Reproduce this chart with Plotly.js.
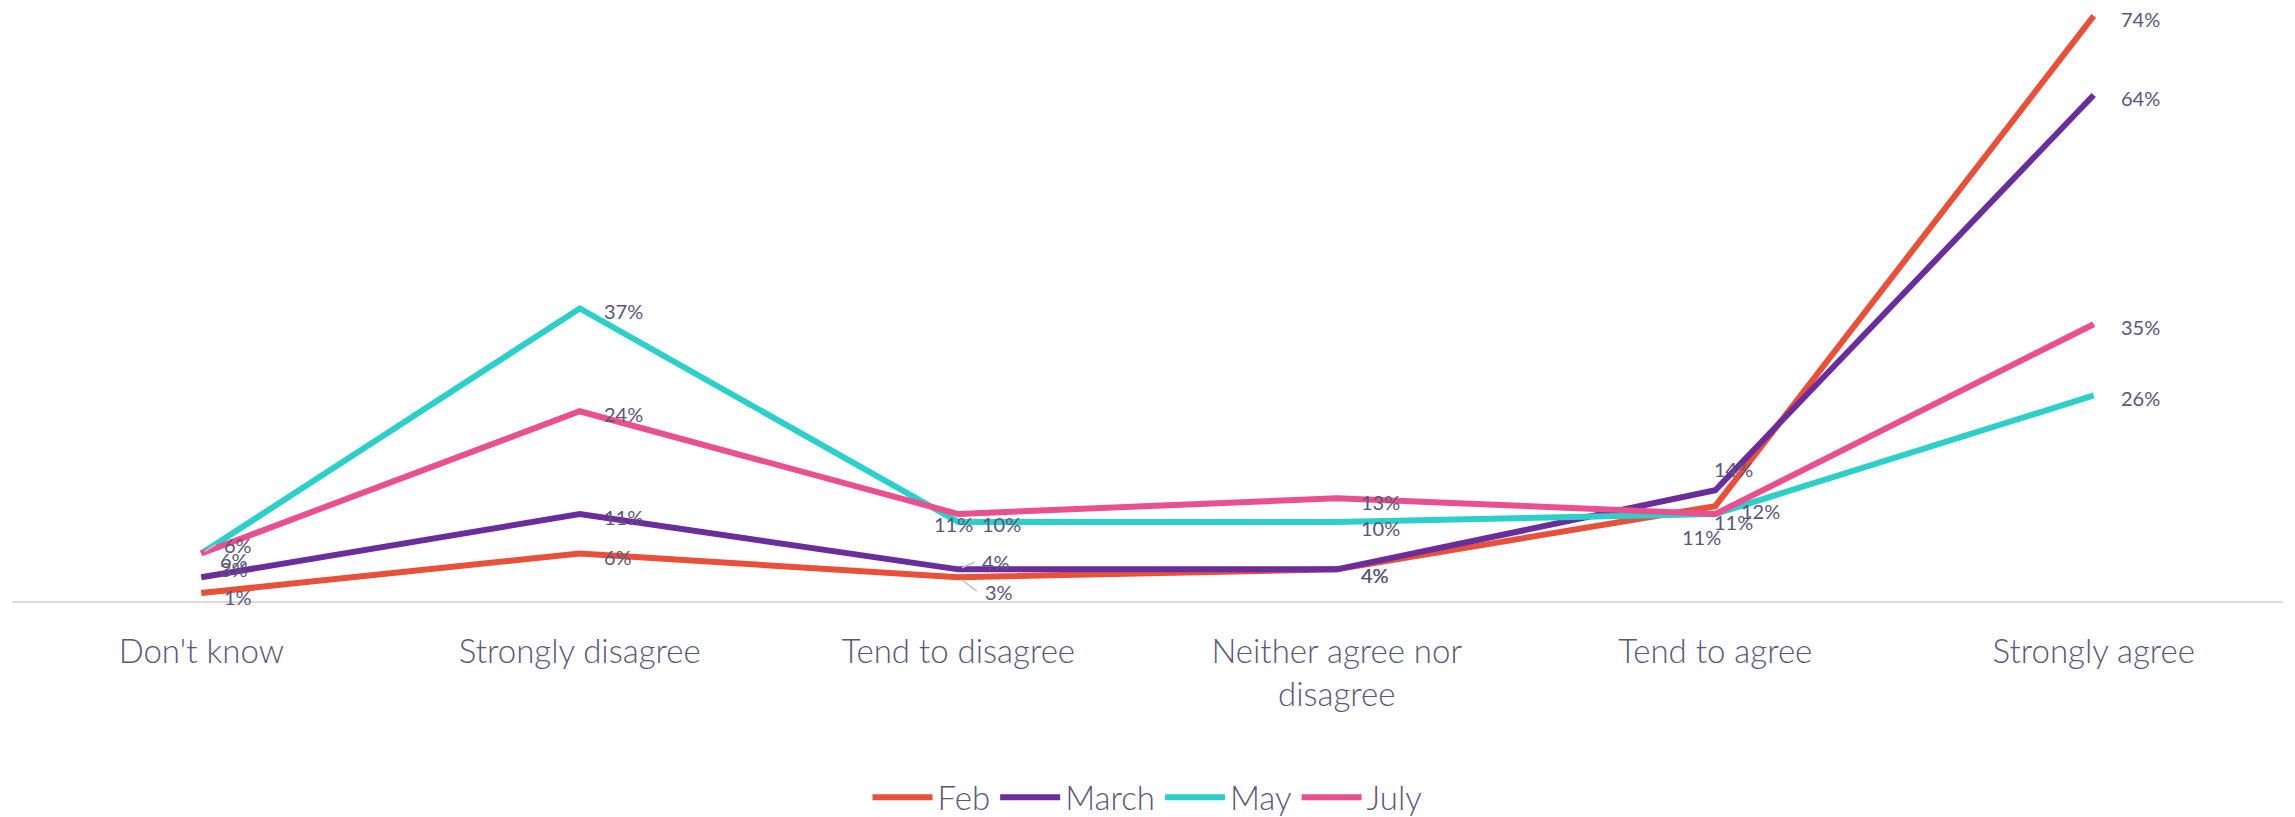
<!DOCTYPE html>
<html>
<head>
<meta charset="utf-8">
<script src="https://cdn.plot.ly/plotly-3.0.1.min.js"></script>
<style>html,body{margin:0;padding:0;background:#fff}#chart{width:2295px;height:817px}</style>
</head>
<body>
<div id="chart"></div>
<script>
const categories = ["Don't know", "Strongly disagree", "Tend to disagree", "Neither agree nor<br>disagree", "Tend to agree", "Strongly agree"];
const seriesNames = ["Feb", "March", "May", "July"];
const feb   = [1, 6, 3, 4, 12, 74];
const march = [3, 11, 4, 4, 14, 64];
const may   = [6, 37, 10, 10, 11, 26];
const july  = [6, 24, 11, 13, 11, 35];
const colors = ["#e8503a", "#6c2d9c", "#2ccfc9", "#ea4f90"];
const allSeries = [feb, march, may, july];

// label placement tweaks per series/category: [xshift, yshift(up +), xanchor]
const D = [22, -3, 'left'];
const labelPos = [
  // Feb
  [[21, -4, 'left'], D, [25, -15, 'left'], [22, -6, 'left'], [24, -5, 'left'], [25, -3, 'left']],
  // March
  [[17, 8, 'left'], D, [22, 7, 'left'], [22, -6, 'left'], [-3, 21, 'left'], [25, -3, 'left']],
  // May
  [[21, 9, 'left'], D, [22, -2, 'left'], [22, -6, 'left'], [-14, -23, 'center'], [25, -3, 'left']],
  // July
  [[17, -6, 'left'], D, [-5, -10, 'center'], [22, -4, 'left'], [-3, -8, 'left'], [25, -3, 'left']]
];

const traces = allSeries.map((vals, s) => ({
  type: 'scatter',
  mode: 'lines',
  name: seriesNames[s],
  x: categories,
  y: vals,
  line: {color: colors[s], width: 6, shape: 'linear'},
  hoverinfo: 'skip',
  cliponaxis: false
}));

const FAM = 'Lato, "Open Sans", sans-serif';
const TXT = '#5b5678';
const labelFont = {family: FAM, size: 20, color: TXT, weight: 400};
const annotations = [];
allSeries.forEach((vals, s) => {
  vals.forEach((v, i) => {
    const p = labelPos[s][i];
    annotations.push({
      x: categories[i], y: v, xref: 'x', yref: 'y',
      text: v + '%',
      showarrow: false,
      xanchor: p[2], yanchor: 'middle',
      xshift: p[0], yshift: p[1],
      font: labelFont
    });
  });
});
// leader lines for crowded labels
const leaders = [
  {s: 1, i: 2, ax: 18, ay: -8},
  {s: 0, i: 2, ax: 20, ay: 15},
  {s: 2, i: 0, ax: 16, ay: -10}
];
leaders.forEach(L => {
  annotations.push({
    x: categories[L.i], y: allSeries[L.s][L.i], xref: 'x', yref: 'y',
    text: '', showarrow: true, arrowhead: 0, arrowwidth: 1.5,
    arrowcolor: '#c3c1cf', ax: L.ax, ay: L.ay, standoff: 4
  });
});

const layout = {
  width: 2295, height: 817,
  margin: {l: 12, r: 12, t: 8, b: 216},
  paper_bgcolor: '#ffffff', plot_bgcolor: '#ffffff',
  font: {family: FAM, color: TXT, weight: 300},
  showlegend: true,
  legend: {
    orientation: 'h', x: 0.5, xanchor: 'center',
    yref: 'container', y: 0.024, yanchor: 'middle',
    font: {family: FAM, size: 33, color: TXT, weight: 300},
    itemwidth: 60, tracegroupgap: 0
  },
  xaxis: {
    type: 'category', range: [-0.5, 5.5],
    showgrid: false, zeroline: false,
    showline: true, linecolor: '#dcdbe3', linewidth: 2,
    ticks: '', ticklabelstandoff: 20,
    tickfont: {family: FAM, size: 33, color: TXT, weight: 300},
    fixedrange: true
  },
  yaxis: {
    range: [0, 75], visible: false, showgrid: false, zeroline: false, fixedrange: true
  },
  annotations: annotations
};

Plotly.newPlot('chart', traces, layout, {displayModeBar: false, staticPlot: true});
</script>
</body>
</html>
